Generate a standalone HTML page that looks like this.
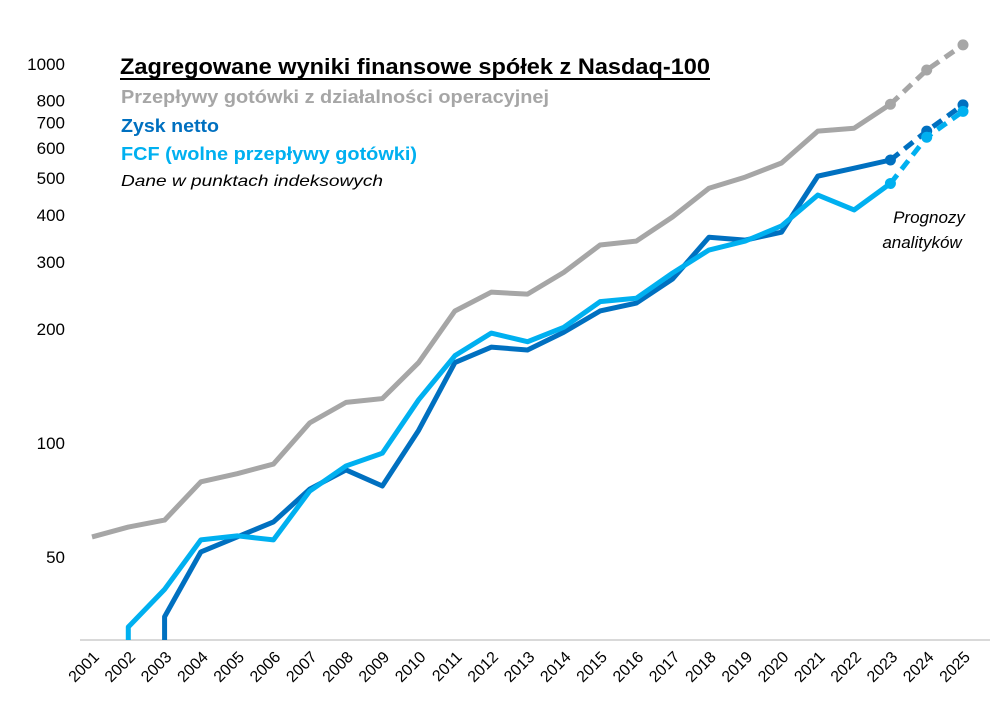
<!DOCTYPE html>
<html><head><meta charset="utf-8"><style>
body{margin:0;background:#fff;}
svg{display:block;font-family:"Liberation Sans",sans-serif;}
</style></head><body>
<svg id="chart" width="1004" height="708">
<g id="yaxis"></g>
<line x1="80" y1="640" x2="990" y2="640" stroke="#d9d9d9" stroke-width="2"/>
<g id="xaxis"></g>
<g id="series"></g>
<text x="120" y="74" font-size="22" font-weight="bold" fill="#000" textLength="590" lengthAdjust="spacingAndGlyphs">Zagregowane wyniki finansowe spółek z Nasdaq-100</text>
<line x1="120" y1="79" x2="710" y2="79" stroke="#000" stroke-width="2"/>
<text x="121" y="103" font-size="18" font-weight="bold" fill="#a6a6a6" textLength="428" lengthAdjust="spacingAndGlyphs">Przepływy gotówki z działalności operacyjnej</text>
<text x="121" y="132" font-size="18" font-weight="bold" fill="#0070c0" textLength="98" lengthAdjust="spacingAndGlyphs">Zysk netto</text>
<text x="121" y="160" font-size="18" font-weight="bold" fill="#00b0f0" textLength="296" lengthAdjust="spacingAndGlyphs">FCF (wolne przepływy gotówki)</text>
<text x="121" y="186" font-size="16" font-style="italic" fill="#000" textLength="262" lengthAdjust="spacingAndGlyphs">Dane w punktach indeksowych</text>
<text x="929" y="223" font-size="17" font-style="italic" fill="#000" text-anchor="middle">Prognozy</text>
<text x="922" y="248" font-size="17" font-style="italic" fill="#000" text-anchor="middle">analityków</text>
</svg>
<script>
const years=[2001,2002,2003,2004,2005,2006,2007,2008,2009,2010,2011,2012,2013,2014,2015,2016,2017,2018,2019,2020,2021,2022,2023,2024,2025];
const opCashFlow=[56.5,60,62.6,79,83,88,113,128,131,163,223,250,247,282,333,341,395,470,503,548,665,677,783,964,1123];
const netIncome=[null,null,34.8,51.6,56.5,61.9,75.6,84.9,77,108,163,179,176,196,223,234,271,349,343,360,506,531,558,665,780];
const fcf=[null,32.7,41.1,55.5,56.9,55.5,74.7,87,94,130,170,195,185,202,236,241,281,323,341,374,451,412,484,641,750];
const yTicks=[50,100,200,300,400,500,600,700,800,1000];
const forecastStart=22;
const NS="http://www.w3.org/2000/svg";
const x=i=>92+i*(963-92)/24;
const y=v=>443-379*Math.log10(v/100);
const yBottom=640;
function mk(tag,attrs,parent){const e=document.createElementNS(NS,tag);for(const k in attrs)e.setAttribute(k,attrs[k]);parent.appendChild(e);return e;}
const ya=document.getElementById('yaxis');
yTicks.forEach(t=>{const e=mk('text',{x:65,y:y(t)+6,'font-size':17,'text-anchor':'end',fill:'#000'},ya);


e.textContent=t;});
const xa=document.getElementById('xaxis');
years.forEach((yr,i)=>{const e=mk('text',{x:x(i)+8,y:658,'font-size':16,'text-anchor':'end',fill:'#000',transform:`rotate(-45 ${x(i)+8} 658)`},xa);


e.textContent=yr;});
const sg=document.getElementById('series');
const cpEl=mk('clipPath',{id:'clip'},sg);
mk('rect',{x:0,y:0,width:1004,height:yBottom},cpEl);
function draw(vals,color,name){
  let pts=[];
  for(let i=0;i<=forecastStart;i++){if(vals[i]==null)continue;
    if(pts.length===0&&i>0&&vals[i-1]==null)pts.push(`${x(i)},${yBottom+5}`);
    pts.push(`${x(i)},${y(vals[i])}`);}
  const p=mk('polyline',{points:pts.join(' '),fill:'none',stroke:color,'stroke-width':5,'stroke-linejoin':'round','clip-path':'url(#clip)'},sg);
  
  
  const fp=[];for(let i=forecastStart;i<vals.length;i++)fp.push(`${x(i)},${y(vals[i])}`);
  const d=mk('polyline',{points:fp.join(' '),fill:'none',stroke:color,'stroke-width':5,'stroke-dasharray':'11 7'},sg);
  
  
  for(let i=forecastStart;i<vals.length;i++){
    const c=mk('circle',{cx:x(i),cy:y(vals[i]),r:5.5,fill:color},sg);
    
    
  }
}
draw(opCashFlow,'#a6a6a6','operating-cash-flow');
draw(netIncome,'#0070c0','net-income');
draw(fcf,'#00b0f0','fcf');
</script>
</body></html>
